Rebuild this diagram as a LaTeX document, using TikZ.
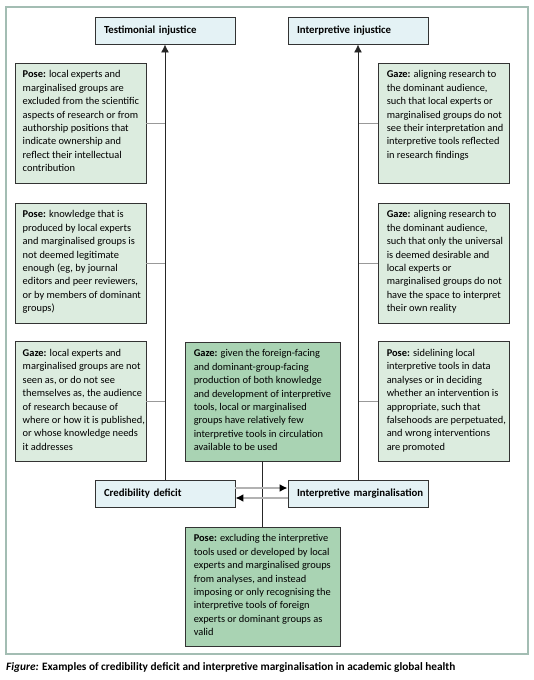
\documentclass[tikz,border=0pt]{standalone}
\usepackage{fontspec}
\setmainfont{Carlito}
\usetikzlibrary{arrows.meta}
\definecolor{lblue}{HTML}{E4F2F5}
\definecolor{lgreen}{HTML}{DCECDF}
\definecolor{dgreen}{HTML}{A9D3B3}
\definecolor{framec}{HTML}{A3BDB3}
\definecolor{edgec}{HTML}{333333}
\begin{document}
\begin{tikzpicture}[x=1pt,y=-1pt,
  hdr/.style={draw=edgec,line width=0.9pt,fill=lblue,minimum height=27pt,text width=122pt,inner xsep=9pt,align=left,font=\fontsize{10.8}{12}\selectfont\bfseries},
  gbox/.style={draw=edgec,line width=0.9pt,fill=lgreen,minimum width=131pt,minimum height=120pt,inner sep=0pt},
  cbox/.style={draw=edgec,line width=0.9pt,fill=dgreen,minimum width=155pt,minimum height=119pt,inner sep=0pt},
  txt/.style={anchor=north west,inner sep=0pt,align=left,font=\fontsize{10.4}{13.4}\selectfont},
  side/.style={draw=gray!80,line width=0.6pt},
  vline/.style={draw=black!85,line width=0.9pt,-{Latex[length=8pt,width=8pt]}},
  harr/.style={draw=gray!60,line width=2pt,-{Latex[length=8pt,width=8pt,color=black]}}
]
\useasboundingbox (0,0) rectangle (534,680);
\draw[framec,line width=1.2pt] (6,7) rectangle (528,654);

% headers
\node[hdr] (ti) at (165,30.5) {\mbox{Testimonial injustice}};
\node[hdr] (ii) at (358,30.5) {\mbox{Interpretive injustice}};
\node[hdr] (cd) at (165,494) {\mbox{Credibility deficit}};
\node[hdr] (im) at (358,494) {\mbox{Interpretive marginalisation}};

% left boxes
\node[gbox] (l1) at (80.5,123) {};
\node[gbox] (l2) at (80.5,263) {};
\node[gbox] (l3) at (80.5,401.5) {};
% right boxes
\node[gbox] (r1) at (443.5,123) {};
\node[gbox] (r2) at (443.5,263) {};
\node[gbox] (r3) at (443.5,401.5) {};
% center boxes
\node[cbox] (c1) at (262.5,401.5) {};
\node[cbox] (c2) at (262.5,586.5) {};

\node[txt] (l1t) at ([shift={(8,8)}]l1.north west) {\textbf{Pose:} local experts and\\marginalised groups are\\excluded from the scientific\\aspects of research or from\\authorship positions that\\indicate ownership and\\reflect their intellectual\\contribution};
\node[txt] (l2t) at ([shift={(8,8)}]l2.north west) {\textbf{Pose:} knowledge that is\\produced by local experts\\and marginalised groups is\\not deemed legitimate\\enough (eg, by journal\\editors and peer reviewers,\\or by members of dominant\\groups)};
\node[txt] (l3t) at ([shift={(8,8)}]l3.north west) {\textbf{Gaze:} local experts and\\marginalised groups are not\\seen as, or do not see\\themselves as, the audience\\of research because of\\where or how it is published,\\or whose knowledge needs\\it addresses};
\node[txt] (r1t) at ([shift={(9,8)}]r1.north west) {\textbf{Gaze:} aligning research to\\the dominant audience,\\such that local experts or\\marginalised groups do not\\see their interpretation and\\interpretive tools reflected\\in research findings};
\node[txt] (r2t) at ([shift={(9,8)}]r2.north west) {\textbf{Gaze:} aligning research to\\the dominant audience,\\such that only the universal\\is deemed desirable and\\local experts or\\marginalised groups do not\\have the space to interpret\\their own reality};
\node[txt] (r3t) at ([shift={(9,8)}]r3.north west) {\textbf{Pose:} sidelining local\\interpretive tools in data\\analyses or in deciding\\whether an intervention is\\appropriate, such that\\falsehoods are perpetuated,\\and wrong interventions\\are promoted};
\node[txt] (c1t) at ([shift={(9,8)}]c1.north west) {\textbf{Gaze:} given the foreign-facing\\and dominant-group-facing\\production of both knowledge\\and development of interpretive\\tools, local or marginalised\\groups have relatively few\\interpretive tools in circulation\\available to be used};
\node[txt] (c2t) at ([shift={(9,8)}]c2.north west) {\textbf{Pose:} excluding the interpretive\\tools used or developed by local\\experts and marginalised groups\\from analyses, and instead\\imposing or only recognising the\\interpretive tools of foreign\\experts or dominant groups as\\valid};

% connectors
\draw[side] (l1.east) -- (l1.east -| cd.north);
\draw[side] (l2.east) -- (l2.east -| cd.north);
\draw[side] (l3.east) -- (l3.east -| cd.north);
\draw[side] (r1.west) -- (r1.west -| im.north);
\draw[side] (r2.west) -- (r2.west -| im.north);
\draw[side] (r3.west) -- (r3.west -| im.north);
\draw[vline] (cd.north) -- (ti.south);
\draw[vline] (im.north) -- (ii.south);
\draw[black!85,line width=0.9pt] (c1.south) -- (c2.north);
\draw[harr] ([yshift=6pt]cd.east) -- ([yshift=6pt]im.west);
\draw[harr] ([yshift=-4pt]im.west) -- ([yshift=-4pt]cd.east);

\node[anchor=west,inner sep=0pt,font=\fontsize{11.3}{13}\selectfont\bfseries] (cap) at (6,667) {\textit{Figure:} Examples of credibility deficit and interpretive marginalisation in academic global health};
\end{tikzpicture}
\end{document}
